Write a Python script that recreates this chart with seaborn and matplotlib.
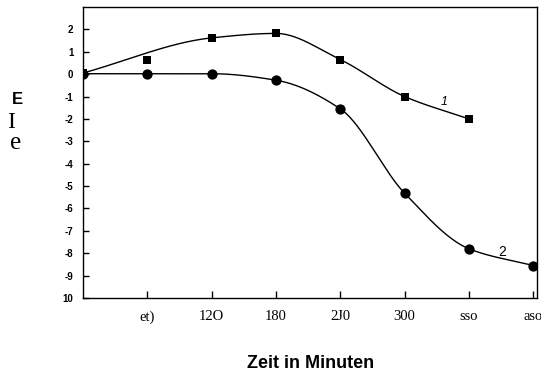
import numpy as np
import pandas as pd
import matplotlib
matplotlib.use("Agg")
import matplotlib.pyplot as plt
import seaborn as sns

# ---- data ----
minutes = [0, 60, 120, 180, 240, 300, 360, 420]
curve1_x = [0, 60, 120, 180, 240, 300, 360]
curve1_y = [0.05, 0.62, 1.62, 1.82, 0.65, -1.0, -2.0]
curve2_x = [0, 60, 120, 180, 240, 300, 360, 420]
curve2_y = [0.02, 0.02, 0.02, -0.27, -1.55, -5.32, -7.8, -8.55]
xtick_labels = ["et)", "12O", "180", "2J0", "300", "sso", "aso"]
ytick_values = [2, 1, 0, -1, -2, -3, -4, -5, -6, -7, -8, -9, -10]
ytick_labels = ["2", "1", "0", "-1", "-2", "-3", "-4", "-5", "-6", "-7", "-8", "-9", "10"]
curve1_skip = [60]  # hand-drawn curve passes above this point


def pchip(xs, ys, n=500):
    xs = np.asarray(xs, float)
    ys = np.asarray(ys, float)
    h = np.diff(xs)
    d = np.diff(ys) / h
    m = np.zeros_like(ys)
    for k in range(1, len(xs) - 1):
        if d[k - 1] * d[k] > 0:
            w1 = 2 * h[k] + h[k - 1]
            w2 = h[k] + 2 * h[k - 1]
            m[k] = (w1 + w2) / (w1 / d[k - 1] + w2 / d[k])
        else:
            m[k] = 0.0
    m[0] = d[0]
    m[-1] = d[-1]
    xd = np.linspace(xs[0], xs[-1], n)
    idx = np.clip(np.searchsorted(xs, xd) - 1, 0, len(xs) - 2)
    hh = xs[idx + 1] - xs[idx]
    t = (xd - xs[idx]) / hh
    h00 = 2 * t**3 - 3 * t**2 + 1
    h10 = t**3 - 2 * t**2 + t
    h01 = -2 * t**3 + 3 * t**2
    h11 = t**3 - t**2
    yd = h00 * ys[idx] + h10 * hh * m[idx] + h01 * ys[idx + 1] + h11 * hh * m[idx + 1]
    return xd, yd


sns.set_style("ticks")
plt.rcParams["text.color"] = "black"
plt.rcParams["axes.labelcolor"] = "black"
plt.rcParams["xtick.color"] = "black"
plt.rcParams["ytick.color"] = "black"

fig = plt.figure(figsize=(5.41, 3.74), dpi=100)
ax = fig.add_axes([83 / 541, (374 - 298) / 374, (537 - 83) / 541, (298 - 7) / 374])

c1x = [x for x in curve1_x if x not in curve1_skip]
c1y = [y for x, y in zip(curve1_x, curve1_y) if x not in curve1_skip]
sx1, sy1 = pchip(c1x, c1y)
sx2, sy2 = pchip(curve2_x, curve2_y)

sns.lineplot(x=sx1, y=sy1, ax=ax, color="black", linewidth=1.0, sort=False)
sns.lineplot(x=sx2, y=sy2, ax=ax, color="black", linewidth=1.0, sort=False)
sns.scatterplot(x=curve1_x, y=curve1_y, ax=ax, marker="s", s=32, color="black",
                edgecolor="black", linewidth=0, zorder=5)
sns.scatterplot(x=curve2_x, y=curve2_y, ax=ax, marker="o", s=55, color="black",
                edgecolor="black", linewidth=0, zorder=5)

ax.set_xlim(0, 423.5)
ax.set_ylim(-10, 3)
ax.set_xticks(minutes[1:])
ax.set_xticklabels(xtick_labels, family="Liberation Serif", fontsize=10.5, color="black")
ax.set_yticks(ytick_values)
ax.set_yticklabels(ytick_labels, family="Liberation Sans", fontweight="bold", fontsize=7,
                   color="black")
ax.tick_params(axis="x", direction="in", length=5, width=1, pad=9, colors="black")
ax.tick_params(axis="y", direction="in", length=4, width=1, pad=7, colors="black")
for s in ax.spines.values():
    s.set_visible(True)
    s.set_linewidth(1.0)
    s.set_color("black")
ax.set_xlabel("")
ax.set_ylabel("")

ax.text(337, -1.25, "1", fontsize=9, family="Liberation Sans", style="italic",
        ha="center", va="center", color="black")
ax.text(391, -7.95, "2", fontsize=10, family="Liberation Sans",
        ha="center", va="center", color="black")

fig.text(311 / 541, 1 - 363 / 374, "Zeit in Minuten", ha="center", va="center",
         family="Liberation Sans", fontweight="bold", fontsize=13, color="black")
fig.text(17.5 / 541, 1 - 100 / 374, "E", ha="center", va="center",
         family="Liberation Sans", fontweight="bold", fontsize=12, color="black")
fig.text(11 / 541, 1 - 122 / 374, "I", ha="center", va="center",
         family="Liberation Serif", fontsize=17, color="black")
fig.text(16 / 541, 1 - 143 / 374, "e", ha="center", va="center",
         family="Liberation Serif", fontsize=18, color="black")

fig.savefig("out.png", dpi=100)
